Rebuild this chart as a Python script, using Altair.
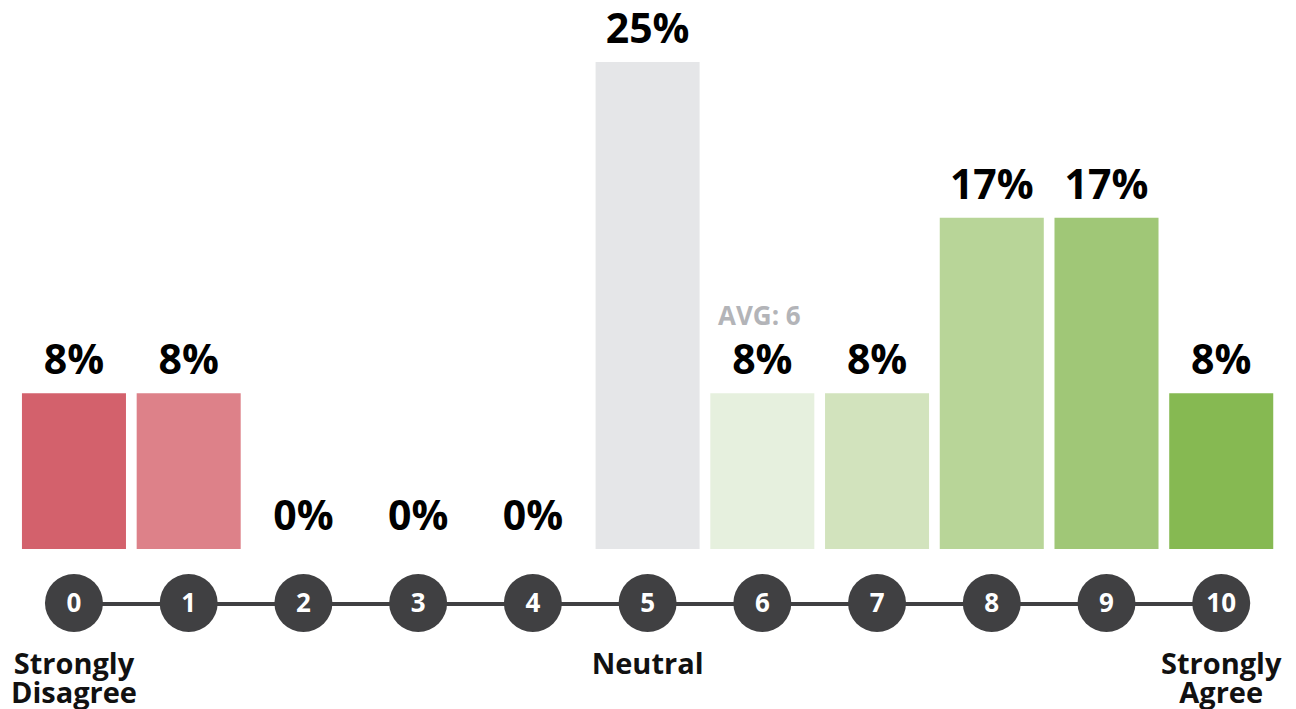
import altair as alt
import pandas as pd

scores = ["0", "1", "2", "3", "4", "5", "6", "7", "8", "9", "10"]
percents = [8, 8, 0, 0, 0, 25, 8, 8, 17, 17, 8]
bar_colors = ["#d3616c", "#dd8189", "#e8a5ab", "#f0c6ca", "#f5dde0", "#e5e6e8",
              "#e6f0de", "#d2e3bd", "#b8d598", "#a0c777", "#86b952"]
end_scores = ["0", "5", "10"]
end_texts = [["Strongly", "Disagree"], ["Neutral"], ["Strongly", "Agree"]]
avg_score = "6"
avg_value = 8
avg_text = "AVG: 6"

FONT = "Open Sans"
DARK = "#404042"

df = pd.DataFrame({"score": scores, "pct": percents,
                   "label": [f"{p}%" for p in percents]})
ends = pd.DataFrame({"score": end_scores, "text": end_texts})
avg = pd.DataFrame({"score": [avg_score], "pct": [avg_value], "text": [avg_text]})

x = alt.X("score:N", sort=scores,
          scale=alt.Scale(domain=scores, paddingInner=10.7 / 114.7, paddingOuter=5.35 / 114.7),
          axis=None)
y = alt.Y("pct:Q", scale=alt.Scale(domain=[0, 25], nice=False), axis=None)

base = alt.Chart(df)

bars = base.mark_bar().encode(
    x=x, y=y,
    color=alt.Color("score:N", scale=alt.Scale(domain=scores, range=bar_colors), legend=None),
)

labels = base.mark_text(font=FONT, fontWeight="bold", fontSize=41, color="#000000",
                        baseline="alphabetic", dy=-19).encode(x=x, y=y, text="label:N")

line = base.mark_line(color=DARK, strokeWidth=4).encode(x=x, y=alt.value(542))

circles = base.mark_point(shape="circle", filled=True, opacity=1, color=DARK, size=3364).encode(
    x=x, y=alt.value(541))

nums = base.mark_text(font=FONT, fontWeight="bold", fontSize=26, color="#ffffff",
                      baseline="alphabetic").encode(x=x, y=alt.value(550), text="score:N")

end_lbl = alt.Chart(ends).mark_text(font=FONT, fontWeight="bold", fontSize=29, color="#111111",
                                    baseline="alphabetic", lineHeight=29).encode(
    x=x, y=alt.value(612), text="text")

avg_lbl = alt.Chart(avg).mark_text(font=FONT, fontWeight="bold", fontSize=26, color="#b3b4b8",
                                   baseline="alphabetic", dx=-3, dy=-68).encode(x=x, y=y, text="text:N")

chart = alt.layer(bars, labels, line, circles, nums, end_lbl, avg_lbl).properties(
    width=1262, height=487,
    autosize=alt.AutoSizeParams(type="none"),
    padding={"left": 8.6, "top": 54, "right": 9, "bottom": 160},
).configure_view(stroke=None)

chart.save("out.html", embed_options={"renderer": "svg", "actions": False})
